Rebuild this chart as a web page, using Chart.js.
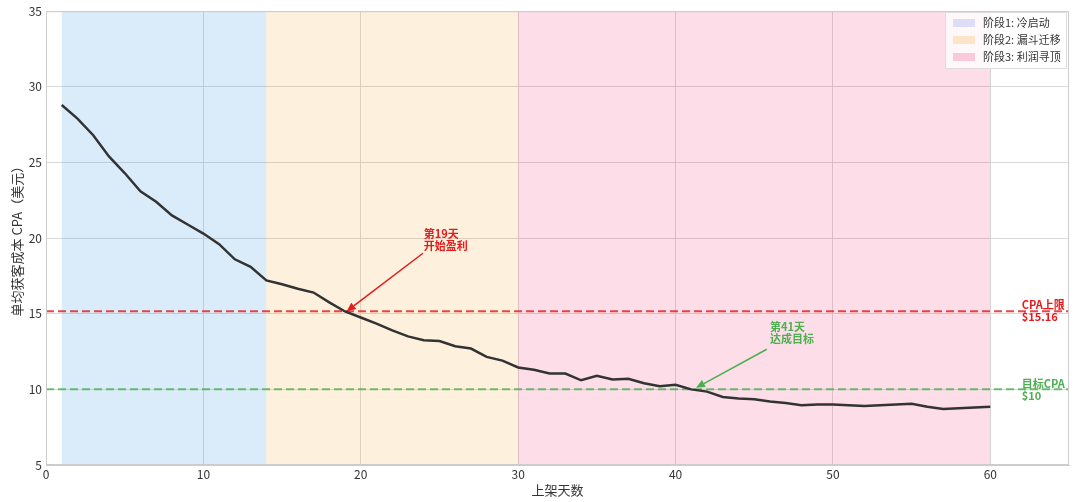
<!DOCTYPE html>
<html>
<head>
<meta charset="utf-8">
<script src="https://cdn.jsdelivr.net/npm/chart.js@4"></script>
<style>
  html, body { margin: 0; padding: 0; background: #fff; }
  #wrap { width: 1080px; height: 502px; }
</style>
</head>
<body>
<div id="wrap"><canvas id="cpaChart" width="1080" height="502"></canvas></div>
<script>
const days = [];
for (let d = 1; d <= 60; d++) days.push(d);
const cpaValues = [
  28.8, 27.9, 26.8, 25.4, 24.3, 23.1, 22.4, 21.5, 20.9, 20.3,
  19.6, 18.6, 18.1, 17.2, 16.95, 16.65, 16.4, 15.75, 15.15, 14.75,
  14.35, 13.9, 13.5, 13.25, 13.2, 12.85, 12.7, 12.15, 11.9, 11.45,
  11.3, 11.05, 11.05, 10.6, 10.9, 10.65, 10.7, 10.4, 10.2, 10.3,
  10.0, 9.85, 9.5, 9.4, 9.35, 9.2, 9.1, 8.95, 9.0, 9.0,
  8.95, 8.9, 8.95, 9.0, 9.05, 8.85, 8.7, 8.75, 8.8, 8.85
];
const phaseNames = ['阶段1: 冷启动', '阶段2: 漏斗迁移', '阶段3: 利润寻顶'];
const phaseStarts = [1, 14, 30];
const phaseEnds = [14, 30, 60];
const phaseColors = ['rgba(52,152,219,0.18)', 'rgba(243,156,18,0.15)', 'rgba(233,30,99,0.15)'];
const legendColors = ['rgba(120,140,230,0.25)', 'rgba(243,156,18,0.22)', 'rgba(233,30,99,0.22)'];
const cpaCap = 15.16;
const cpaTarget = 10;
const xTicks = [0, 10, 20, 30, 40, 50, 60];
const yTicks = [5, 10, 15, 20, 25, 30, 35];

const FONT = '"Noto Sans CJK SC", "Noto Sans", sans-serif';
const RED = '#e41a1c';
const GREEN = '#4caf50';

function drawArrow(ctx, x1, y1, x2, y2, color) {
  ctx.save();
  ctx.strokeStyle = color;
  ctx.fillStyle = color;
  ctx.lineWidth = 1.5;
  const ang = Math.atan2(y2 - y1, x2 - x1);
  const hl = 9, hw = 4;
  const bx = x2 - hl * Math.cos(ang), by = y2 - hl * Math.sin(ang);
  ctx.beginPath();
  ctx.moveTo(x1, y1);
  ctx.lineTo(bx, by);
  ctx.stroke();
  ctx.beginPath();
  ctx.moveTo(x2, y2);
  ctx.lineTo(bx + hw * Math.sin(ang), by - hw * Math.cos(ang));
  ctx.lineTo(bx - hw * Math.sin(ang), by + hw * Math.cos(ang));
  ctx.closePath();
  ctx.fill();
  ctx.restore();
}

const overlayPlugin = {
  id: 'overlay',
  beforeDatasetsDraw(chart) {
    const { ctx, chartArea, scales } = chart;
    ctx.save();
    phaseStarts.forEach((s, i) => {
      const x1 = scales.x.getPixelForValue(s);
      const x2 = scales.x.getPixelForValue(phaseEnds[i]);
      ctx.fillStyle = phaseColors[i];
      ctx.fillRect(x1, chartArea.top, x2 - x1, chartArea.bottom - chartArea.top);
    });
    ctx.restore();
  },
  afterDatasetsDraw(chart) {
    const { ctx, chartArea, scales } = chart;
    const sx = v => scales.x.getPixelForValue(v);
    const sy = v => scales.y.getPixelForValue(v);
    ctx.save();
    // frame
    ctx.strokeStyle = '#cccccc';
    ctx.lineWidth = 1;
    ctx.strokeRect(chartArea.left + 0.5, chartArea.top + 0.5, chartArea.right - chartArea.left - 1, chartArea.bottom - chartArea.top - 1);

    // right labels
    ctx.font = 'bold 11px ' + FONT;
    ctx.textAlign = 'left';
    ctx.textBaseline = 'middle';
    ctx.fillStyle = RED;
    ctx.fillText('CPA上限', sx(62), sy(cpaCap) - 7);
    ctx.fillText('$15.16', sx(62), sy(cpaCap) + 5);
    ctx.fillStyle = GREEN;
    ctx.fillText('目标CPA', sx(62), sy(cpaTarget) - 6);
    ctx.fillText('$10', sx(62), sy(cpaTarget) + 6);

    // annotations
    ctx.fillStyle = RED;
    ctx.fillText('第19天', sx(24), sy(20.3));
    ctx.fillText('开始盈利', sx(24), sy(19.5));
    drawArrow(ctx, sx(23.95), sy(19.0), sx(19.1), sy(cpaCap), RED);
    ctx.fillStyle = GREEN;
    ctx.fillText('第41天', sx(46), sy(14.15));
    ctx.fillText('达成目标', sx(46), sy(13.35));
    drawArrow(ctx, sx(45.8), sy(12.65), sx(41.3), sy(10.1), GREEN);

    // legend
    const lx = 945, ly = 12, lw = 121, lh = 56;
    ctx.fillStyle = 'rgba(255,255,255,0.8)';
    ctx.fillRect(lx, ly, lw, lh);
    ctx.strokeStyle = '#dddddd';
    ctx.strokeRect(lx + 0.5, ly + 0.5, lw, lh);
    ctx.font = '11px ' + FONT;
    phaseNames.forEach((name, i) => {
      const cy = ly + 11 + i * 17;
      ctx.fillStyle = legendColors[i];
      ctx.fillRect(lx + 8, cy - 4, 22, 8);
      ctx.fillStyle = '#333333';
      ctx.fillText(name, lx + 38, cy);
    });
    ctx.restore();
  }
};

new Chart(document.getElementById('cpaChart'), {
  type: 'line',
  data: {
    datasets: [
      {
        label: 'CPA',
        data: days.map((d, i) => ({ x: d, y: cpaValues[i] })),
        borderColor: '#333333',
        borderWidth: 2.5,
        pointRadius: 0,
        tension: 0,
        order: 0
      },
      {
        label: 'CPA上限',
        data: [{ x: 0, y: cpaCap }, { x: 65, y: cpaCap }],
        borderColor: 'rgba(228,26,28,0.8)',
        borderWidth: 2,
        borderDash: [8, 4],
        pointRadius: 0,
        order: 1
      },
      {
        label: '目标CPA',
        data: [{ x: 0, y: cpaTarget }, { x: 65, y: cpaTarget }],
        borderColor: 'rgba(76,175,80,0.8)',
        borderWidth: 2,
        borderDash: [8, 4],
        pointRadius: 0,
        order: 1
      }
    ]
  },
  options: {
    responsive: false,
    animation: false,
    layout: { padding: { top: 10, right: 11, left: 5, bottom: 0 } },
    plugins: { legend: { display: false }, tooltip: { enabled: false } },
    scales: {
      x: {
        type: 'linear',
        min: 0,
        max: 65,
        afterBuildTicks: axis => { axis.ticks = xTicks.map(v => ({ value: v })); },
        ticks: { font: { family: FONT, size: 12 }, color: '#333', padding: 2, maxRotation: 0 },
        grid: { color: '#d9d9d9', drawTicks: false },
        border: { color: '#cccccc' },
        title: { display: true, text: '上架天数', font: { family: FONT, size: 13 }, color: '#333', padding: { top: 2 } },
        afterFit: axis => { axis.height = 37; }
      },
      y: {
        min: 5,
        max: 35,
        afterBuildTicks: axis => { axis.ticks = yTicks.map(v => ({ value: v })); },
        ticks: { font: { family: FONT, size: 12 }, color: '#333', padding: 4 },
        grid: { color: '#d9d9d9', drawTicks: false },
        border: { color: '#cccccc' },
        title: { display: true, text: '单均获客成本 CPA（美元）', font: { family: FONT, size: 13 }, color: '#333', padding: { bottom: 0 } },
        afterFit: axis => { axis.width = 41; }
      }
    }
  },
  plugins: [overlayPlugin]
});
</script>
</body>
</html>
